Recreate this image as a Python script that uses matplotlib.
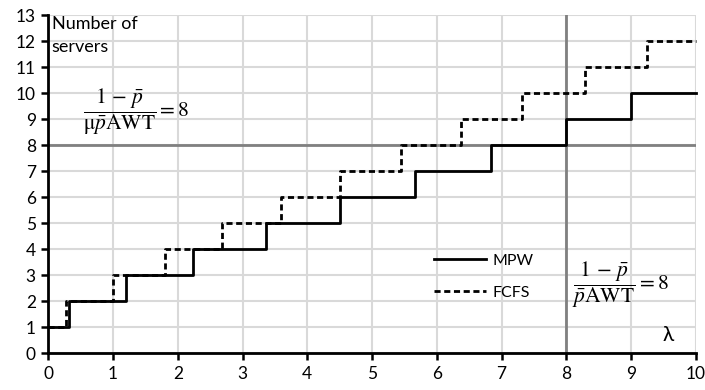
import matplotlib
matplotlib.use("Agg")
import matplotlib.pyplot as plt

# Data
mpw_x = [0, 0.32, 1.20, 2.24, 3.36, 4.51, 5.67, 6.84, 8.0, 9.0, 10]
mpw_y = [1, 2, 3, 4, 5, 6, 7, 8, 9, 10, 10]
fcfs_x = [0, 0.28, 1.0, 1.80, 2.68, 3.59, 4.51, 5.44, 6.37, 7.32, 8.29, 9.24, 10]
fcfs_y = [1, 2, 3, 4, 5, 6, 7, 8, 9, 10, 11, 12, 12]
x_ticks = list(range(0, 11))
y_ticks = list(range(0, 14))
ref_level = 8

plt.rcParams['font.family'] = ['Lato', 'DejaVu Sans']
plt.rcParams['mathtext.fontset'] = 'stix'

fig = plt.figure(figsize=(7.05, 3.9), dpi=100)
ax = fig.add_axes([0.0685, 0.094, 0.9185, 0.8675])

ax.set_xlim(0, 10)
ax.set_ylim(0, 13)
ax.set_xticks(x_ticks)
ax.set_yticks(y_ticks)
ax.grid(True, color='#d9d9d9', lw=1.5, zorder=0)
ax.set_axisbelow(True)

for s in ['top', 'right']:
    ax.spines[s].set_visible(False)
for s in ['left', 'bottom']:
    ax.spines[s].set_linewidth(2)
    ax.spines[s].set_color('black')
    ax.spines[s].set_zorder(5)
ax.tick_params(axis='both', direction='out', length=5, width=1.8, labelsize=12.5, color='black', pad=4)

ax.axhline(ref_level, color='#808080', lw=2, zorder=2)
ax.axvline(ref_level, color='#808080', lw=2, zorder=2)

ax.plot(mpw_x, mpw_y, drawstyle='steps-post', color='black', lw=2, label='MPW', zorder=4, clip_on=False)
ax.plot(fcfs_x, fcfs_y, drawstyle='steps-post', color='black', lw=2, ls=(0, (2.2, 1.3)), label='FCFS', zorder=3, clip_on=False)

ax.legend(loc='center left', bbox_to_anchor=(5.95, 2.95), bbox_transform=ax.transData,
          frameon=False, fontsize=11.5, handlelength=3.3, handletextpad=0.4,
          labelspacing=1.1, borderpad=0, borderaxespad=0)

ax.text(0.05, 12.98, 'Number of\nservers', fontsize=13, va='top', ha='left', linespacing=1.6)
ax.text(0.54, 9.29, r'$\dfrac{1\,-\,\bar{p}}{\mathrm{\mu}\bar{p}\mathrm{AWT}} = 8$', fontsize=15.5, va='center', ha='left')
ax.text(8.09, 2.63, r'$\dfrac{1\,-\,\bar{p}}{\bar{p}\mathrm{AWT}} = 8$', fontsize=15.5, va='center', ha='left')
ax.text(9.58, 0.72, 'λ', fontsize=15, va='center', ha='center')

fig.savefig('out.png', dpi=100)
